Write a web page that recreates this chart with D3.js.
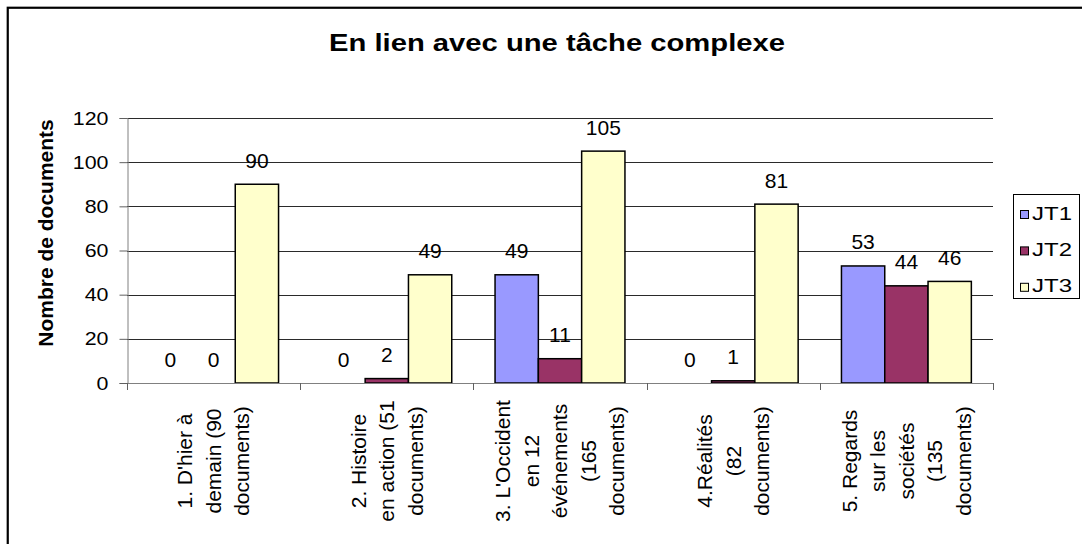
<!DOCTYPE html>
<html>
<head>
<meta charset="utf-8">
<script src="https://cdn.jsdelivr.net/npm/d3@7"></script>
<style>
  body { margin: 0; background: #fff; }
  svg { display: block; }
  text { font-family: Arial, 'Liberation Sans', sans-serif; fill: #000; }
</style>
</head>
<body>
<div id="chart"></div>
<script>
// données
const title = 'En lien avec une tâche complexe';
const yTitle = 'Nombre de documents';
const categories = [
  "1. D'hier à\ndemain (90\ndocuments)",
  "2. Histoire\nen action (51\ndocuments)",
  "3. L'Occident\nen 12\névénements\n(165\ndocuments)",
  "4.Réalités\n(82\ndocuments)",
  "5. Regards\nsur les\nsociétés\n(135\ndocuments)"
];
const seriesNames = ['JT1', 'JT2', 'JT3'];
const jt1 = [0, 0, 49, 0, 53];
const jt2 = [0, 2, 11, 1, 44];
const jt3 = [90, 49, 105, 81, 46];
const yTicks = [0, 20, 40, 60, 80, 100, 120];
const colors = ['#9999ff', '#993366', '#ffffcc'];

const width = 1082, height = 544;
const plot = { left: 127, right: 993, top: 118, bottom: 383 };

const svg = d3.select('#chart').append('svg')
  .attr('width', width)
  .attr('height', height);

// cadre extérieur
svg.append('rect')
  .attr('x', 7.75).attr('y', 7.75)
  .attr('width', 2000).attr('height', 2000)
  .attr('fill', 'none')
  .attr('stroke', '#000')
  .attr('stroke-width', 2.2);

svg.append('text')
  .text(title)
  .attr('x', 557).attr('y', 50.5)
  .attr('text-anchor', 'middle')
  .attr('font-size', 23)
  .attr('font-weight', 'bold')
  .attr('textLength', 456)
  .attr('lengthAdjust', 'spacingAndGlyphs');

const x0 = d3.scaleBand()
  .domain(categories)
  .range([plot.left, plot.right])
  .padding(0);

const x1 = d3.scaleBand()
  .domain(seriesNames)
  .range([0, x0.bandwidth()])
  .paddingInner(0)
  .paddingOuter(0.5);

const y = d3.scaleLinear()
  .domain([0, 120])
  .range([plot.bottom, plot.top]);

// grille
svg.append('g').selectAll('line')
  .data(yTicks.filter(t => t > 0))
  .enter().append('line')
  .attr('x1', plot.left).attr('x2', plot.right)
  .attr('y1', d => Math.round(y(d)) + 0.5)
  .attr('y2', d => Math.round(y(d)) + 0.5)
  .attr('stroke', '#2a2a2a')
  .attr('stroke-width', 1);

// axe vertical
const yAxisG = svg.append('g')
  .attr('transform', `translate(${plot.left + 0.5},0)`)
  .call(d3.axisLeft(y).tickValues(yTicks).tickSize(8).tickPadding(11));
yAxisG.select('.domain').attr('stroke', '#808080');
yAxisG.selectAll('.tick line').attr('stroke', '#606060');
yAxisG.selectAll('.tick text')
  .attr('font-size', 19)
  .attr('font-family', null)
  .attr('textLength', d => String(d).length * 11.9)
  .attr('lengthAdjust', 'spacingAndGlyphs');

svg.append('text')
  .text(yTitle)
  .attr('transform', 'translate(53,233) rotate(-90)')
  .attr('text-anchor', 'middle')
  .attr('font-size', 21)
  .attr('font-weight', 'bold');

// barres
const series = [jt1, jt2, jt3];
const groups = svg.append('g').selectAll('g')
  .data(categories)
  .enter().append('g')
  .attr('transform', d => `translate(${x0(d)},0)`);

groups.selectAll('rect')
  .data((d, i) => seriesNames.map((s, k) => ({ s, k, v: series[k][i] })))
  .enter().append('rect')
  .filter(d => d.v > 0)
  .attr('x', d => x1(d.s))
  .attr('width', x1.bandwidth())
  .attr('y', d => y(d.v))
  .attr('height', d => plot.bottom - y(d.v))
  .attr('fill', d => colors[d.k])
  .attr('stroke', '#000')
  .attr('stroke-width', 1.5);

groups.selectAll('text.value')
  .data((d, i) => seriesNames.map((s, k) => ({ s, k, v: series[k][i] })))
  .enter().append('text')
  .classed('value', true)
  .text(d => d.v)
  .attr('x', d => x1(d.s) + x1.bandwidth() / 2)
  .attr('y', d => y(d.v) - 16.5)
  .attr('text-anchor', 'middle')
  .attr('font-size', 21);

// axe horizontal
svg.append('line')
  .attr('x1', plot.left).attr('x2', plot.right)
  .attr('y1', plot.bottom + 0.5).attr('y2', plot.bottom + 0.5)
  .attr('stroke', '#808080');

svg.append('g').selectAll('line')
  .data(categories.map(c => x0(c)).concat([plot.right]))
  .enter().append('line')
  .attr('x1', d => Math.round(d) + 0.5).attr('x2', d => Math.round(d) + 0.5)
  .attr('y1', plot.bottom).attr('y2', plot.bottom + 7)
  .attr('stroke', '#606060');

const labels = svg.append('g').selectAll('text.cat')
  .data(categories)
  .enter().append('text')
  .classed('cat', true)
  .attr('transform', d => `translate(${x0(d) + x0.bandwidth() / 2},461) rotate(-90)`)
  .attr('text-anchor', 'middle')
  .attr('font-size', 21);

labels.selectAll('tspan')
  .data(d => {
    const lines = d.split('\n');
    return lines.map((l, i) => ({ l, off: (i - (lines.length - 1) / 2) * 28.5 }));
  })
  .enter().append('tspan')
  .text(d => d.l)
  .attr('x', 0)
  .attr('y', d => d.off)
  .attr('dy', '0.35em');

// légende
const legend = svg.append('g');
legend.append('rect')
  .attr('x', 1013.5).attr('y', 194.5)
  .attr('width', 66).attr('height', 104)
  .attr('fill', '#fff')
  .attr('stroke', '#000')
  .attr('stroke-width', 1);

const legendItems = legend.selectAll('g')
  .data(seriesNames)
  .enter().append('g')
  .attr('transform', (d, i) => `translate(0,${215 + i * 36.4})`);

legendItems.append('rect')
  .attr('x', 1020.5).attr('y', -4.5)
  .attr('width', 8).attr('height', 8)
  .attr('fill', (d, i) => colors[i])
  .attr('stroke', '#000')
  .attr('stroke-width', 1);

legendItems.append('text')
  .text(d => d)
  .attr('x', 1032)
  .attr('y', 4.5)
  .attr('font-size', 17.5)
  .attr('textLength', 40)
  .attr('lengthAdjust', 'spacingAndGlyphs');
</script>
</body>
</html>
